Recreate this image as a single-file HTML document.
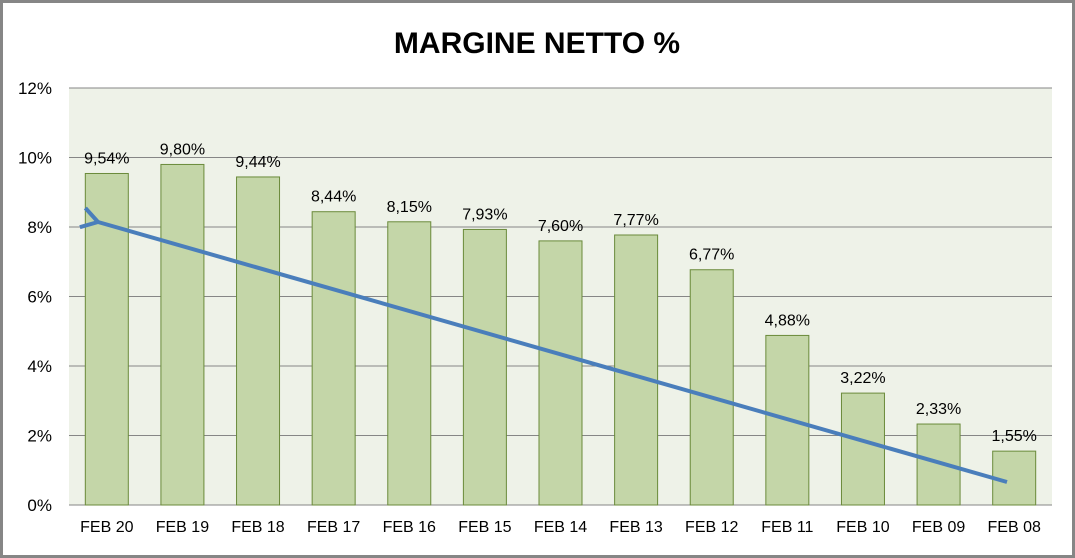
<!DOCTYPE html>
<html><head><meta charset="utf-8"><style>
html,body{margin:0;padding:0;background:#fff;}
svg{display:block;font-family:"Liberation Sans",sans-serif;}
</style></head><body>
<svg id="chart" width="1075" height="558">
<rect x="1.5" y="1.5" width="1072" height="555" fill="#fff" stroke="#868686" stroke-width="3"/>
<text x="537" y="53" text-anchor="middle" font-size="30" font-weight="bold" fill="#000">MARGINE NETTO %</text>
<rect x="69" y="88" width="983" height="417" fill="#eef2e8"/>
<g id="grid"></g><g id="bars"></g><g id="labels"></g><g id="xlabels"></g><g id="ylabels"></g>
<defs><marker id="ah" markerWidth="6" markerHeight="6" refX="1" refY="3" orient="auto" markerUnits="strokeWidth"><path d="M5,0.5 L1,3 L5,5.5" fill="none" stroke="#4a7ebb" stroke-width="1"/></marker></defs>
<line x1="1007" y1="482" x2="98" y2="222" stroke="#4a7ebb" stroke-width="4" marker-end="url(#ah)"/>
</svg>
<script>
const categories=["FEB 20","FEB 19","FEB 18","FEB 17","FEB 16","FEB 15","FEB 14","FEB 13","FEB 12","FEB 11","FEB 10","FEB 09","FEB 08"];
const values=[9.54,9.80,9.44,8.44,8.15,7.93,7.60,7.77,6.77,4.88,3.22,2.33,1.55];
const yTicks=[0,2,4,6,8,10,12];
const NS="http://www.w3.org/2000/svg";
const L=69,R=1052,T=88,B=505,yMax=12;
const step=(R-L)/categories.length;
const y=v=>B-(v/yMax)*(B-T);
const xc=i=>L+step*(i+0.5);
function mk(tag,attrs,parent){const e=document.createElementNS(NS,tag);for(const k in attrs)e.setAttribute(k,attrs[k]);document.getElementById(parent).appendChild(e);return e;}
yTicks.forEach(t=>{
 const g=mk("line",{x1:L,x2:R,y1:y(t),y2:y(t),stroke:"#868686","stroke-width":1},"grid");
 
 
 const tx=mk("text",{x:52,y:y(t)+6,"text-anchor":"end","font-size":17,fill:"#000"},"ylabels");
 tx.textContent=t+"%";
 
 
});
categories.forEach((c,i)=>{
 const v=values[i];
 const b=mk("rect",{x:xc(i)-21.5,y:y(v),width:43,height:B-y(v),fill:"#c4d6a8",stroke:"#6a8a3a","stroke-width":1},"bars");
 
 
 const lb=mk("text",{x:xc(i),y:y(v)-10,"text-anchor":"middle","font-size":16,fill:"#000"},"labels");
 lb.textContent=v.toFixed(2).replace('.',',')+"%";
 
 
 const xl=mk("text",{x:xc(i),y:532,"text-anchor":"middle","font-size":16,fill:"#000"},"xlabels");
 xl.textContent=c;
 
 
});
</script>
</body></html>
